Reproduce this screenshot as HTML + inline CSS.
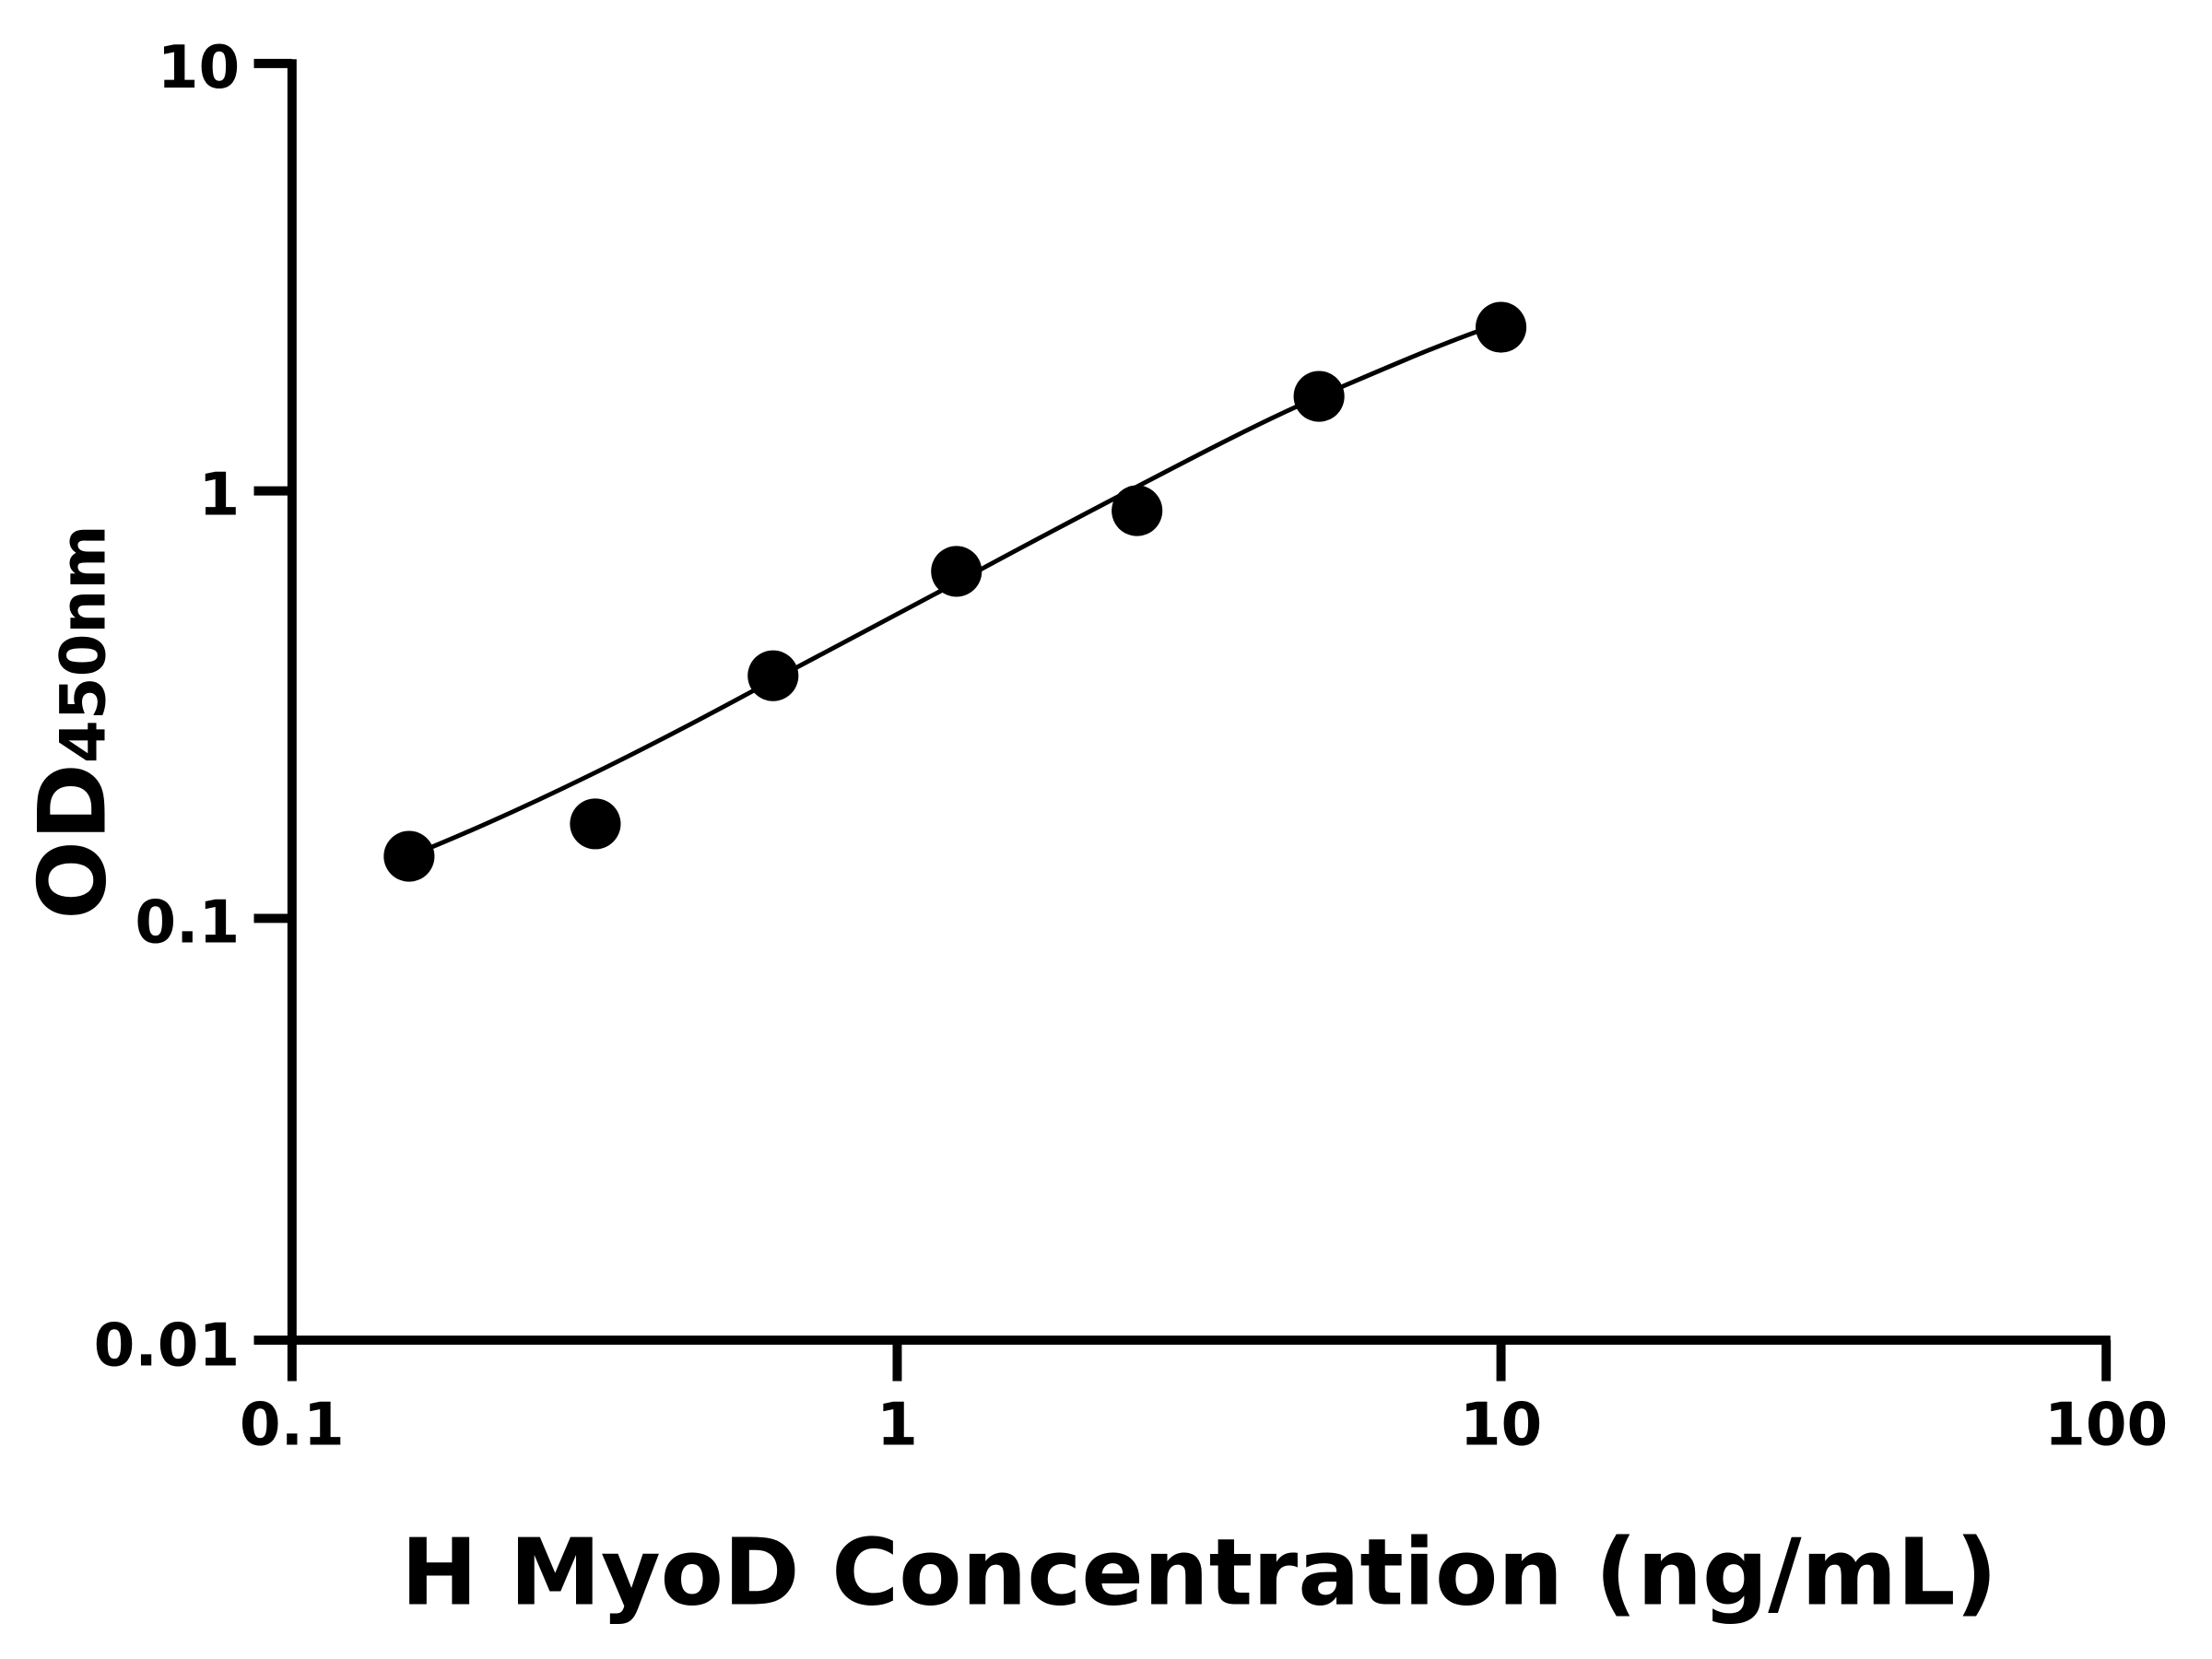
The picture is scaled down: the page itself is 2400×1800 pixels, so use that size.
<!DOCTYPE html>
<html><head><meta charset="utf-8"><style>html,body{margin:0;padding:0;background:#fff}svg{display:block}</style></head>
<body>
<svg width="2400" height="1800" viewBox="0 0 1568 1176" xmlns="http://www.w3.org/2000/svg" font-family="'DejaVu Sans','Liberation Sans',sans-serif" font-weight="bold">
<rect width="1568" height="1176" fill="#fff"/>
<g stroke="#000" stroke-width="6.5" fill="none">
<line x1="207" y1="42" x2="207" y2="979"/>
<line x1="180" y1="950" x2="1496" y2="950"/>
<line x1="180" y1="45" x2="207" y2="45"/>
<line x1="180" y1="348" x2="207" y2="348"/>
<line x1="180" y1="651" x2="207" y2="651"/>
<line x1="636" y1="950" x2="636" y2="979"/>
<line x1="1064" y1="950" x2="1064" y2="979"/>
<line x1="1493" y1="950" x2="1493" y2="979"/>
</g>
<g font-size="42" text-anchor="end">
<text x="170" y="62">10</text>
<text x="170" y="365">1</text>
<text x="170" y="668">0.1</text>
<text x="170" y="968">0.01</text>
</g>
<g font-size="42" text-anchor="middle">
<text x="207" y="1024">0.1</text>
<text x="636" y="1024">1</text>
<text x="1064" y="1024">10</text>
<text x="1493" y="1024">100</text>
</g>
<text x="850" y="1137" font-size="65" text-anchor="middle">H MyoD Concentration (ng/mL)</text>
<text transform="translate(74,512) rotate(-90)" text-anchor="middle"><tspan font-size="66">OD</tspan><tspan font-size="44">450nm</tspan></text>
<path d="M290,607 C340,587 420,552 548,482 C600,454 640,433 678,413 C720,390 760,369 806,345 C850,322 890,301 935,281 C980,262 1020,244 1064,229" stroke="#000" stroke-width="3.2" fill="none"/>
<g fill="#000">
<circle cx="290" cy="607" r="18"/>
<circle cx="422" cy="584" r="18"/>
<circle cx="548" cy="479" r="18"/>
<circle cx="678" cy="405" r="18"/>
<circle cx="806" cy="362" r="18"/>
<circle cx="935" cy="281" r="18"/>
<circle cx="1064" cy="232" r="18"/>
</g>
</svg>
</body></html>
